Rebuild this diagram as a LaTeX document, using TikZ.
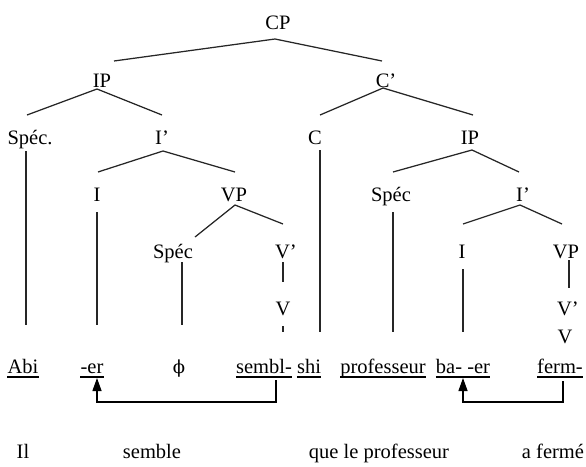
\documentclass[tikz,border=0pt]{standalone}
\usepackage{fontspec}
\setmainfont{Liberation Serif}
\newfontfamily\phifont{DejaVu Serif}
\usetikzlibrary{arrows.meta}
\begin{document}
\begin{tikzpicture}[x=1pt,y=-1pt,
  lbl/.style={inner sep=0pt,anchor=base,font=\fontsize{20.5}{24}\selectfont},
  edge/.style={line width=1.25pt,draw=black!85},
  ul/.style={line width=1.2pt},
  mv/.style={line width=1.3pt,-{Triangle[width=9pt,length=13pt]}}]
\path[use as bounding box] (0,0) rectangle (586,466);
% labels
\node[lbl] (cp) at (278,29) {CP};
\node[lbl] (ipA) at (102,87) {IP};
\node[lbl] (cb) at (386,87) {C’};
\node[lbl] (spA) at (30,144) {Spéc.};
\node[lbl] (ibA) at (162,144) {I’};
\node[lbl] (c) at (315,144) {C};
\node[lbl] (ipB) at (470,144) {IP};
\node[lbl] (iA) at (97,201) {I};
\node[lbl] (vpA) at (234,201) {VP};
\node[lbl] (spB) at (391,201) {Spéc};
\node[lbl] (ibB) at (523,201) {I’};
\node[lbl] (spC) at (173,258) {Spéc};
\node[lbl] (vbA) at (286,258) {V’};
\node[lbl] (iB) at (462,258) {I};
\node[lbl] (vpB) at (566,258) {VP};
\node[lbl] (vA) at (283,315) {V};
\node[lbl] (vbB) at (568,315) {V’};
\node[lbl] (vB) at (565,343) {V};
% words
\node[lbl] (abi) at (23,373) {Abi};
\node[lbl] (er) at (92,373) {-er};
\node[lbl] (phi) at (179,373) {\phifont\fontsize{18}{22}\selectfont ϕ};
\node[lbl] (sembl) at (264,373) {sembl-};
\node[lbl] (shi) at (309,373) {shi};
\node[lbl] (prof) at (383,373) {professeur};
\node[lbl] (baer) at (463,373) {ba- -er};
\node[lbl] (ferm) at (560,373) {ferm-};
% glosses
\node[lbl] (il) at (23,458) {Il};
\node[lbl] (semble) at (152,458) {semble};
\node[lbl] (que) at (379,458) {que le professeur};
\node[lbl] (afer) at (553,458) {a fermé};
% branches
\draw[edge] ([shift={(12,-26)}]ipA.base) -- ([shift={(-3,10)}]cp.base) -- ([shift={(-4,-26)}]cb.base);
\draw[edge] ([shift={(-3,-29)}]spA.base) -- ([shift={(-5,2)}]ipA.base) -- ([shift={(0,-29)}]ibA.base);
\draw[edge] ([shift={(5,-29)}]c.base) -- ([shift={(-3,1)}]cb.base) -- ([shift={(3,-29)}]ipB.base);
\draw[edge] ([shift={(1,-29)}]iA.base) -- ([shift={(1,7)}]ibA.base) -- ([shift={(1,-29)}]vpA.base);
\draw[edge] ([shift={(2,-29)}]spB.base) -- ([shift={(2,6)}]ipB.base) -- ([shift={(-4,-29)}]ibB.base);
\draw[edge] ([shift={(22,-21)}]spC.base) -- ([shift={(1,4)}]vpA.base) -- ([shift={(-3,-34)}]vbA.base);
\draw[edge] ([shift={(1,-34)}]iB.base) -- ([shift={(-3,4)}]ibB.base) -- ([shift={(-4,-34)}]vpB.base);
% vertical lines
\draw[edge] ([shift={(-4,7)}]spA.base) -- ([shift={(3,-48)}]abi.base);
\draw[edge] ([shift={(0,11)}]iA.base) -- ([shift={(5,-48)}]er.base);
\draw[edge] ([shift={(9,4)}]spC.base) -- ([shift={(3,-48)}]phi.base);
\draw[edge] ([shift={(-3,4)}]vbA.base) -- ([shift={(0,-33)}]vA.base);
\draw[edge] ([shift={(0,11)}]vA.base) -- ([shift={(19,-41)}]sembl.base);
\draw[edge] ([shift={(5,6)}]c.base) -- ([shift={(11,-41)}]shi.base);
\draw[edge] ([shift={(2,11)}]spB.base) -- ([shift={(10,-41)}]prof.base);
\draw[edge] ([shift={(1,11)}]iB.base) -- ([shift={(0,-41)}]baer.base);
\draw[edge] ([shift={(3,2)}]vpB.base) -- ([shift={(1,-27)}]vbB.base);
% underlines
\foreach \w in {abi,er,sembl,shi,prof,baer,ferm}
  \draw[ul] ([shift={(0,4)}]\w.base west) -- ([shift={(0,4)}]\w.base east);
% movement arrows
\draw[mv] ([shift={(12,7)}]sembl.base) |- ([shift={(5,29)}]er.base) -- ([shift={(5,5)}]er.base);
\draw[mv] ([shift={(3,8)}]ferm.base) |- ([shift={(0,29)}]baer.base) -- ([shift={(0,5)}]baer.base);
\end{tikzpicture}
\end{document}
